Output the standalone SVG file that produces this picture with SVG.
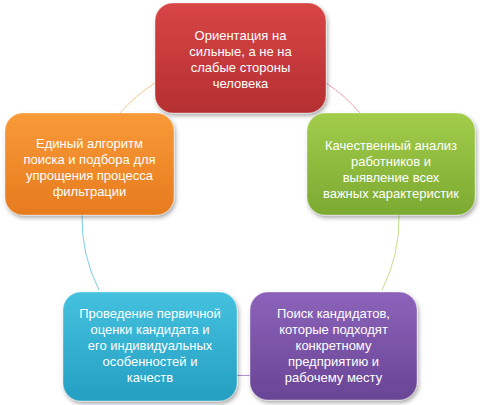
<svg xmlns="http://www.w3.org/2000/svg" width="480" height="405" viewBox="0 0 480 405">
<defs>
<linearGradient id="gR" x1="0" y1="0" x2="0" y2="1"><stop offset="0" stop-color="#d84546"/><stop offset="1" stop-color="#b52f31"/></linearGradient>
<linearGradient id="gO" x1="0" y1="0" x2="0" y2="1"><stop offset="0" stop-color="#f89a38"/><stop offset="1" stop-color="#e77b1e"/></linearGradient>
<linearGradient id="gG" x1="0" y1="0" x2="0" y2="1"><stop offset="0" stop-color="#a2cd4b"/><stop offset="1" stop-color="#7ca931"/></linearGradient>
<linearGradient id="gC" x1="0" y1="0" x2="0" y2="1"><stop offset="0" stop-color="#45c1df"/><stop offset="1" stop-color="#249fc2"/></linearGradient>
<linearGradient id="gP" x1="0" y1="0" x2="0" y2="1"><stop offset="0" stop-color="#8c63ba"/><stop offset="1" stop-color="#694595"/></linearGradient>
<filter id="sh" x="-10%" y="-10%" width="125%" height="130%"><feDropShadow dx="1.5" dy="2.5" stdDeviation="2" flood-color="#000" flood-opacity="0.35"/></filter>
</defs>
<style>
.box{filter:url(#sh);stroke:#ffffff;stroke-opacity:0.35;stroke-width:1}
.t{font-family:"Liberation Sans",Arial,sans-serif;font-size:13px;fill:#ffffff;text-anchor:middle}
.c{fill:none;stroke-width:1}
</style>
<g id="connectors">
<path class="c" stroke="#f2a3a3" d="M326 83 A159 159 0 0 1 360 113"/>
<path class="c" stroke="#c3e08a" d="M399 215 A159 159 0 0 1 382 290"/>
<path class="c" stroke="#a98bcc" d="M250 375.3 A159 159 0 0 1 237 375.4"/>
<path class="c" stroke="#7dcde3" d="M99 290 A159 159 0 0 1 82 215"/>
<path class="c" stroke="#fbc68e" d="M120 113 A159 159 0 0 1 155 83"/>
</g>
<g id="node-red">
<rect class="box" x="155" y="3" width="171" height="110" rx="18" fill="url(#gR)"/>
<text class="t"><tspan x="240.5" y="39.5">Ориентация на</tspan><tspan x="240.5" y="55.5">сильные, а не на</tspan><tspan x="240.5" y="71.5">слабые стороны</tspan><tspan x="240.5" y="87.5">человека</tspan></text>
</g>
<g id="node-green">
<rect class="box" x="307" y="113" width="168" height="102" rx="18" fill="url(#gG)"/>
<text class="t"><tspan x="391" y="149.5">Качественный анализ</tspan><tspan x="391" y="165.5">работников и</tspan><tspan x="391" y="181.5">выявление всех</tspan><tspan x="391" y="197.5">важных характеристик</tspan></text>
</g>
<g id="node-purple">
<rect class="box" x="250" y="292" width="167" height="108" rx="18" fill="url(#gP)"/>
<text class="t"><tspan x="333.5" y="317.5">Поиск кандидатов,</tspan><tspan x="333.5" y="333.5">которые подходят</tspan><tspan x="333.5" y="349.5">конкретному</tspan><tspan x="333.5" y="365.5">предприятию и</tspan><tspan x="333.5" y="381.5">рабочему месту</tspan></text>
</g>
<g id="node-cyan">
<rect class="box" x="63" y="292" width="174" height="109" rx="18" fill="url(#gC)"/>
<text class="t"><tspan x="150" y="317.5">Проведение первичной</tspan><tspan x="150" y="333.5">оценки кандидата и</tspan><tspan x="150" y="349.5">его индивидуальных</tspan><tspan x="150" y="365.5">особенностей и</tspan><tspan x="150" y="381.5">качеств</tspan></text>
</g>
<g id="node-orange">
<rect class="box" x="5" y="113" width="169" height="102" rx="18" fill="url(#gO)"/>
<text class="t"><tspan x="89.5" y="147.5">Единый алгоритм</tspan><tspan x="89.5" y="163.5">поиска и подбора для</tspan><tspan x="89.5" y="179.5">упрощения процесса</tspan><tspan x="89.5" y="195.5">фильтрации</tspan></text>
</g>
</svg>
